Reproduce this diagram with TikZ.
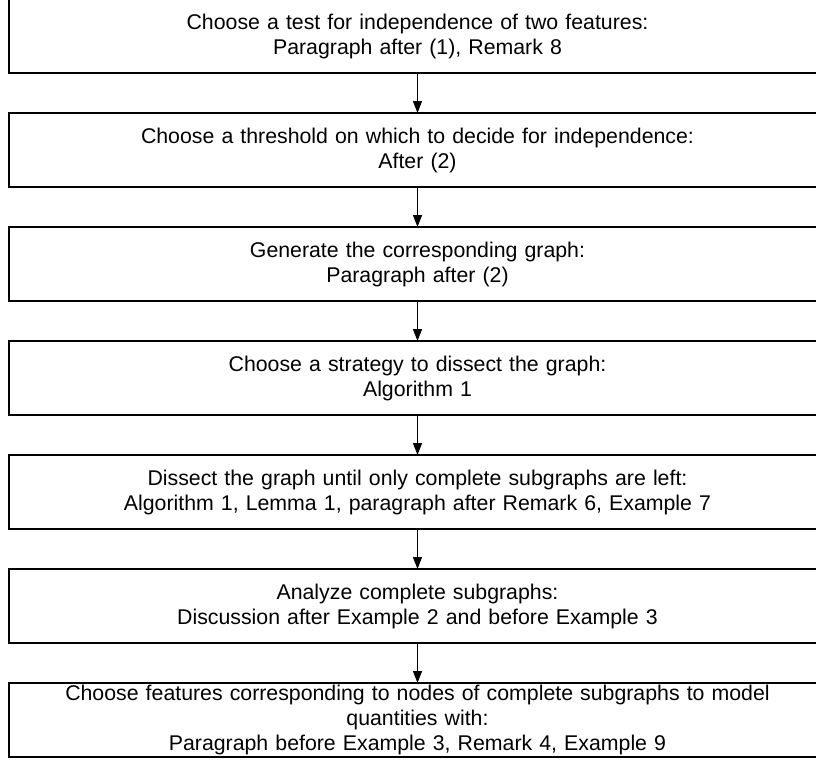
\documentclass[tikz,border=0pt]{standalone}
\usepackage{fontspec}
\setmainfont{Liberation Sans}
\usetikzlibrary{positioning,arrows.meta}

\begin{document}
\begin{tikzpicture}[x=1pt,y=-1pt,
    stage/.style={draw, line width=1.3pt, minimum width=817pt, minimum height=74pt,
      text width=805pt, align=center, inner ysep=0pt, outer sep=0pt,
      font=\fontsize{21.3}{25}\selectfont},
    flow/.style={line width=1.3pt, -{Triangle[length=12pt,width=9pt]}}]
  \useasboundingbox (0,0) rectangle (816,760);
  \clip (0,0) rectangle (816,760);

  \node[stage] (test) at (417.5,36)
    {Choose a test for independence of two features:\\ Paragraph after (1), Remark 8};
  \node[stage, below=40pt of test] (threshold)
    {Choose a threshold on which to decide for independence:\\ After (2)};
  \node[stage, below=40pt of threshold] (graph)
    {Generate the corresponding graph:\\ Paragraph after (2)};
  \node[stage, below=40pt of graph] (strategy)
    {Choose a strategy to dissect the graph:\\ Algorithm 1};
  \node[stage, below=40pt of strategy] (dissect)
    {Dissect the graph until only complete subgraphs are left:\\ Algorithm 1, Lemma 1, paragraph after Remark 6, Example 7};
  \node[stage, below=40pt of dissect] (analyze)
    {Analyze complete subgraphs:\\ Discussion after Example 2 and before Example 3};
  \node[stage, below=40pt of analyze] (features)
    {Choose features corresponding to nodes of complete subgraphs to model\\ quantities with:\\ Paragraph before Example 3, Remark 4, Example 9};

  % arrows between the steps
  \foreach \a/\b in {test/threshold, threshold/graph, graph/strategy,
                     strategy/dissect, dissect/analyze, analyze/features}
    \draw[flow] (\a) -- (\b);
\end{tikzpicture}
\end{document}
